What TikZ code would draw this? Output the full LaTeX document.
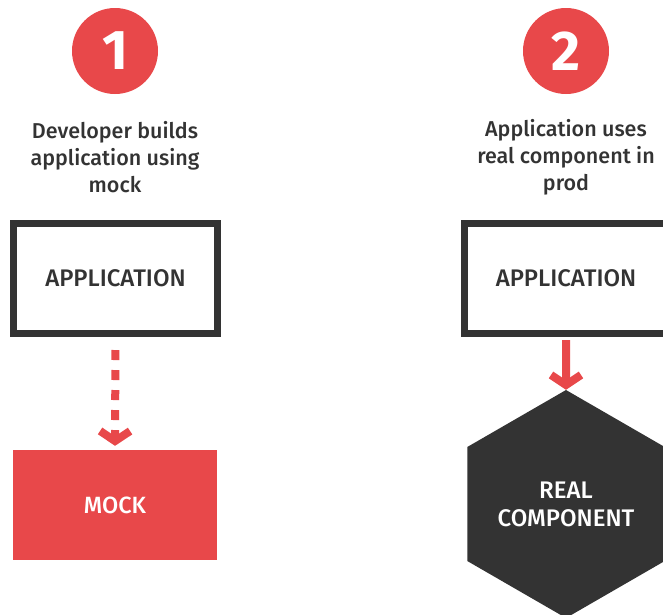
\documentclass[tikz,border=0pt]{standalone}
\usepackage{fontspec}
\setmainfont{Fira Sans}[UprightFont=* Medium,BoldFont=* Bold]
\usetikzlibrary{arrows.meta,shapes.geometric}
\definecolor{mockred}{HTML}{E8484A}
\definecolor{darkgrey}{HTML}{333333}
\tikzset{
  numball/.style={circle,fill=mockred,text=white,minimum size=86pt,inner sep=0pt,
    font=\fontsize{56}{56}\selectfont\bfseries},
  caption/.style={align=center,text=darkgrey,font=\fontsize{21.5}{27}\selectfont},
  appbox/.style={draw=darkgrey,line width=7pt,minimum width=204pt,minimum height=110pt,
    text=darkgrey,font=\fontsize{24}{24}\selectfont},
  mockbox/.style={fill=mockred,minimum width=204pt,minimum height=110pt,inner sep=0pt,
    text=white,font=\fontsize{23.5}{23.5}\selectfont},
  realhex/.style={regular polygon,regular polygon sides=6,shape border rotate=30,
    fill=darkgrey,minimum size=228pt,inner sep=0pt,align=center,text=white,
    font=\fontsize{24}{28}\selectfont},
  uses/.style={mockred,line width=8pt,-{Straight Barb[length=10pt,width=30pt,line width=8pt]}}
}
\begin{document}
\begin{tikzpicture}[x=1pt,y=-1pt]
  \useasboundingbox (0,0) rectangle (663,614);
  % left column: build against the mock
  \node[numball] (n1) at (115,51) {1};
  \node[caption] (c1) at (115,157) {Developer builds\\application using\\mock};
  \node[appbox] (app1) at (115.5,278.5) {APPLICATION};
  \node[mockbox] (mock) at (115,505) {MOCK};
  % right column: real component in prod
  \node[numball] (n2) at (566,51) {2};
  \node[caption] (c2) at (566,157) {Application uses\\real component in\\prod};
  \node[appbox] (app2) at (566,278.5) {APPLICATION};
  \node[realhex] (real) at (566,504) {REAL\\COMPONENT};
  \begin{scope}
    \draw[uses,dash pattern=on 10pt off 10pt,shorten <=13pt,shorten >=4pt] (app1.south) -- (mock.north);
    \draw[uses,shorten <=3pt] (app2.south) -- (real.north);
  \end{scope}
\end{tikzpicture}
\end{document}
